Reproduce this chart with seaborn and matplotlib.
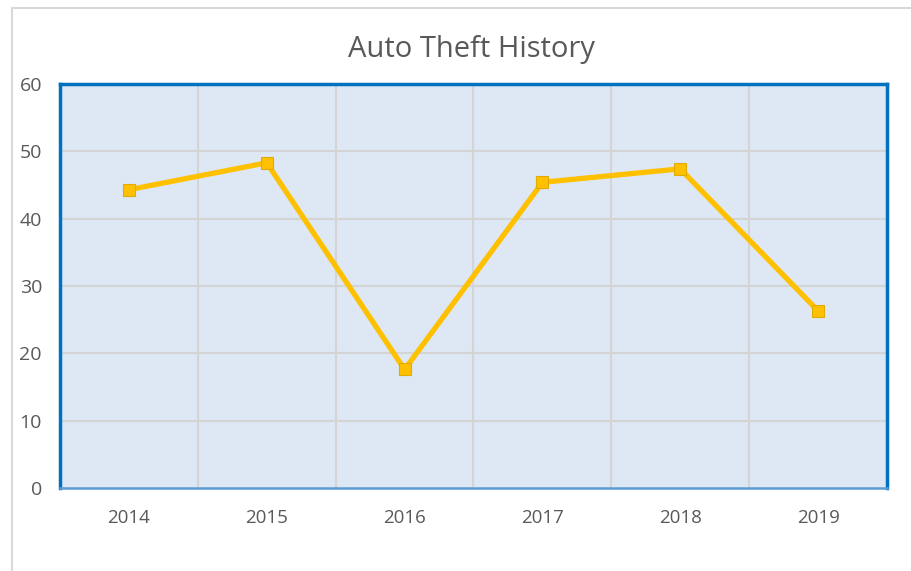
import matplotlib
matplotlib.use("Agg")
import matplotlib.pyplot as plt
import seaborn as sns
import pandas as pd
from matplotlib.lines import Line2D

years = ["2014", "2015", "2016", "2017", "2018", "2019"]
thefts = [44.3, 48.3, 17.6, 45.4, 47.4, 26.3]
y_ticks = [0, 10, 20, 30, 40, 50, 60]

df = pd.DataFrame({"year": years, "thefts": thefts})

sns.set_theme(style="white")
plt.rcParams["font.family"] = ["Open Sans", "DejaVu Sans"]

W, H = 911, 571
fig = plt.figure(figsize=(W / 100, H / 100), dpi=100)
left, right, top, bottom = 60, 887, 84, 488
ax = fig.add_axes([left / W, 1 - bottom / H, (right - left) / W, (bottom - top) / H])
ax.set_facecolor("#DDE8F4")

sns.lineplot(data=df, x="year", y="thefts", ax=ax, color="#FFC000", linewidth=3.8,
             marker="s", markersize=8.5, markeredgecolor="#E0AC00", markeredgewidth=0.8,
             zorder=5, sort=False)

ax.set_xlim(-0.5, len(years) - 0.5)
ax.set_ylim(0, 60)
ax.set_yticks(y_ticks)
ax.set_yticklabels([str(t) for t in y_ticks])
ax.set_xticks(range(len(years)))
ax.set_xticklabels(years)

for y in y_ticks[1:-1]:
    ax.axhline(y, color="#D4D4D4", linewidth=1.5, zorder=1)
for i in range(1, len(years)):
    ax.axvline(i - 0.5, color="#D4D4D4", linewidth=1.5, zorder=1)

for side in ["left", "top", "right"]:
    ax.spines[side].set_visible(True)
    ax.spines[side].set_color("#0070C0")
    ax.spines[side].set_linewidth(2.5)
ax.spines["bottom"].set_color("#5B9BD5")
ax.spines["bottom"].set_linewidth(1.8)

ax.tick_params(axis="y", length=0, pad=13, labelsize=14, labelcolor="#595959")
ax.tick_params(axis="x", length=0, pad=15, labelsize=13.5, labelcolor="#595959")
ax.set_xlabel("")
ax.set_ylabel("")

fig.text(471 / W, 1 - 50 / H, "Auto Theft History", ha="center", va="center",
         fontsize=21, color="#595959")

# chart-area border (left and top edges visible in the crop)
fig.add_artist(Line2D([12 / W, 12 / W], [0, 1 - 8 / H], transform=fig.transFigure,
                      color="#D9D9D9", linewidth=1.5))
fig.add_artist(Line2D([12 / W, 1], [1 - 8 / H, 1 - 8 / H], transform=fig.transFigure,
                      color="#D9D9D9", linewidth=1.5))

fig.savefig("out.png", dpi=100, facecolor="white")
